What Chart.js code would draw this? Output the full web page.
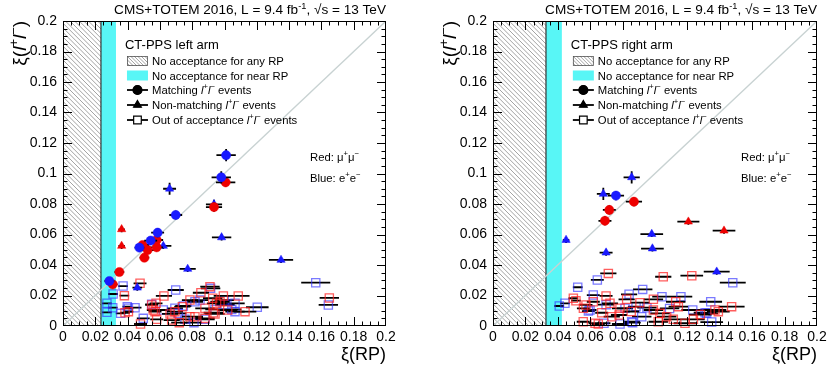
<!DOCTYPE html>
<html><head><meta charset="utf-8">
<script src="https://cdn.jsdelivr.net/npm/chart.js@4.4.0/dist/chart.umd.min.js"></script>
<style>
html,body{margin:0;padding:0;background:#fff;}
#wrap{position:relative;width:834px;height:374px;overflow:hidden;}
canvas{position:absolute;top:0;}
#c1{left:0;} #c2{left:417px;}
</style></head><body>
<div id="wrap"><canvas id="c1" width="417" height="374"></canvas><canvas id="c2" width="417" height="374"></canvas></div>
<script>
// ---------------- data: [xi(RP), xi(ll), xErr, yErr] ----------------
const axisMin = 0, axisMax = 0.2, majorStep = 0.02, minorStep = 0.005;
const diagonal = [[0, 0], [0.2, 0.2]];
const leftBands = { hatchEnd: 0.0235, cyanEnd: 0.0328 };
const rightBands = { hatchEnd: 0.0327, cyanEnd: 0.0425 };

const leftMatchMuMu = [[0.1007,0.0942,0.006,0.003],[0.0935,0.0780,0.005,0.003],[0.0580,0.0564,0.004,0.003],[0.0493,0.0531,0.004,0.002],[0.0580,0.0516,0.004,0.002],[0.0524,0.0498,0.004,0.002],[0.0504,0.0448,0.003,0.002],[0.0349,0.0354,0.003,0.002],[0.0308,0.0273,0.003,0.002]];
const leftMatchEE = [[0.1010,0.1120,0.006,0.004],[0.0980,0.0975,0.006,0.004],[0.0698,0.0728,0.004,0.003],[0.0586,0.0612,0.004,0.003],[0.0543,0.0560,0.004,0.002],[0.0473,0.0514,0.003,0.002],[0.0287,0.0295,0.003,0.002]];
const leftNonMuMu = [[0.0363,0.0634,0.002,0.002],[0.0363,0.0525,0.002,0.002]];
const leftNonEE = [[0.0660,0.0900,0.004,0.004],[0.0935,0.0798,0.005,0.003],[0.0621,0.0525,0.005,0.002],[0.0982,0.0581,0.006,0.002],[0.0772,0.0374,0.005,0.002],[0.0460,0.0251,0.003,0.002],[0.1350,0.0433,0.0075,0.002]];
const leftOutMuMu = [[0.0477,0.0280,0.004],[0.0380,0.0199,0.003],[0.0384,0.0087,0.003],[0.0405,0.0094,0.003],[0.0480,0.0013,0.004],[0.0549,0.0138,0.004],[0.0559,0.0105,0.004],[0.0576,0.0149,0.004],[0.0570,0.0094,0.004],[0.0580,0.0044,0.004],[0.0625,0.0197,0.005],[0.0663,0.0079,0.005],[0.0673,0.0039,0.005],[0.0693,0.0094,0.005],[0.0720,0.0022,0.005],[0.0739,0.0127,0.005],[0.0786,0.0170,0.005],[0.0786,0.0061,0.005],[0.0817,0.0061,0.005],[0.0854,0.0218,0.005],[0.0879,0.0116,0.006],[0.0879,0.0050,0.006],[0.0910,0.0258,0.006],[0.0927,0.0182,0.006],[0.0931,0.0087,0.006],[0.0941,0.0079,0.006],[0.0951,0.0149,0.006],[0.0972,0.0159,0.006],[0.0993,0.0197,0.006],[0.1020,0.0105,0.006],[0.1085,0.0197,0.007],[0.1127,0.0094,0.007],[0.1649,0.0184,0.006]];
const leftOutEE = [[0.0272,0.0149,0.003],[0.0272,0.0090,0.003],[0.0310,0.0210,0.003],[0.0308,0.0120,0.003],[0.0372,0.0262,0.003],[0.0357,0.0083,0.003],[0.0398,0.0127,0.003],[0.0405,0.0116,0.003],[0.0446,0.0120,0.004],[0.0497,0.0050,0.004],[0.0549,0.0142,0.004],[0.0621,0.0105,0.004],[0.0693,0.0116,0.005],[0.0698,0.0236,0.005],[0.0714,0.0083,0.005],[0.0745,0.0131,0.005],[0.0755,0.0044,0.005],[0.0811,0.0022,0.005],[0.0817,0.0159,0.005],[0.0848,0.0170,0.005],[0.0879,0.0044,0.006],[0.0914,0.0247,0.006],[0.0941,0.0109,0.006],[0.0999,0.0170,0.006],[0.1003,0.0138,0.006],[0.1045,0.0109,0.006],[0.1065,0.0149,0.006],[0.1065,0.0094,0.006],[0.1203,0.0123,0.007],[0.1565,0.0284,0.009],[0.1643,0.0138,0.006]];

const rightMatchMuMu = [[0.0870,0.0815,0.005,0.003],[0.0718,0.0761,0.004,0.003],[0.0691,0.0690,0.004,0.003]];
const rightMatchEE = [[0.0759,0.0855,0.005,0.003]];
const rightNonMuMu = [[0.1206,0.0684,0.0068,0.002],[0.1426,0.0625,0.007,0.002]];
const rightNonEE = [[0.0856,0.0975,0.005,0.004],[0.0681,0.0866,0.004,0.004],[0.0980,0.0603,0.007,0.002],[0.0451,0.0564,0.002,0.002],[0.0984,0.0508,0.007,0.002],[0.0698,0.0481,0.004,0.002],[0.1381,0.0356,0.008,0.002]];
const rightOutMuMu = [[0.0496,0.0182,0.003],[0.0512,0.0166,0.003],[0.0557,0.0028,0.004],[0.0558,0.0116,0.004],[0.0574,0.0138,0.004],[0.0619,0.0159,0.004],[0.0630,0.0018,0.004],[0.0650,0.0013,0.004],[0.0671,0.0087,0.004],[0.0698,0.0197,0.004],[0.0712,0.0345,0.005],[0.0722,0.0149,0.005],[0.0733,0.0061,0.005],[0.0778,0.0072,0.005],[0.0784,0.0116,0.005],[0.0825,0.0175,0.005],[0.0853,0.0095,0.005],[0.0907,0.0153,0.006],[0.0990,0.0175,0.006],[0.0990,0.0105,0.006],[0.1020,0.0028,0.006],[0.1031,0.0083,0.006],[0.1051,0.0323,0.005],[0.1072,0.0061,0.006],[0.1113,0.0044,0.006],[0.1128,0.0159,0.006],[0.1144,0.0127,0.006],[0.1185,0.0018,0.007],[0.1227,0.0330,0.007],[0.1237,0.0044,0.007],[0.1280,0.0075,0.007],[0.1370,0.0105,0.007],[0.1391,0.0094,0.007],[0.1473,0.0127,0.008]];
const rightOutEE = [[0.0409,0.0131,0.003],[0.0444,0.0149,0.003],[0.0523,0.0254,0.003],[0.0589,0.0098,0.004],[0.0599,0.0105,0.004],[0.0619,0.0203,0.004],[0.0644,0.0302,0.004],[0.0685,0.0018,0.004],[0.0698,0.0140,0.005],[0.0784,0.0013,0.005],[0.0815,0.0116,0.005],[0.0840,0.0208,0.005],[0.0856,0.0028,0.005],[0.0862,0.0022,0.005],[0.0883,0.0127,0.005],[0.0918,0.0061,0.006],[0.0924,0.0240,0.006],[0.0950,0.0120,0.006],[0.1043,0.0192,0.006],[0.1090,0.0115,0.006],[0.1160,0.0192,0.007],[0.1233,0.0105,0.007],[0.1309,0.0087,0.007],[0.1319,0.0083,0.007],[0.1344,0.0159,0.007],[0.1350,0.0026,0.007],[0.1480,0.0284,0.008]];

// ---------------- styling ----------------
const FONT = "'Liberation Sans', Arial, Helvetica, sans-serif";
const RED = 'rgb(238,0,0)', BLUE = 'rgb(25,25,255)';
const RED_OPEN = 'rgba(255,30,30,0.72)', BLUE_OPEN = 'rgba(50,50,255,0.65)';

function mk(label, arr, style, color, filled, radius, order) {
  return {
    label, type: 'scatter', order, errBars: true,
    data: arr.map(p => ({ x: p[0], y: p[1], xe: p[2] || 0, ye: p[3] || 0 })),
    pointStyle: style, pointRadius: radius, pointHoverRadius: radius,
    backgroundColor: filled ? color : 'rgba(0,0,0,0)',
    borderColor: color, pointBorderWidth: filled ? 0.5 : 1.3, clip: false
  };
}

const bandPlugin = {
  id: 'bands',
  beforeDatasetsDraw(chart, args, opts) {
    const { ctx, chartArea: a, scales: { x } } = chart;
    const x0 = x.getPixelForValue(axisMin), h = x.getPixelForValue(opts.hatchEnd), c = x.getPixelForValue(opts.cyanEnd);
    ctx.save();
    ctx.fillStyle = '#58f6f6';
    ctx.fillRect(h, a.top, c - h, a.bottom - a.top);
    ctx.beginPath(); ctx.rect(x0, a.top, h - x0, a.bottom - a.top); ctx.clip();
    ctx.strokeStyle = '#8c8c8c'; ctx.lineWidth = 0.8; ctx.beginPath();
    const H = a.bottom - a.top;
    for (let k = -H - 10; k < h - x0 + 10; k += 4.6) { ctx.moveTo(x0 + k, a.top); ctx.lineTo(x0 + k + H, a.bottom); }
    ctx.stroke();
    ctx.restore();
    ctx.save();
    ctx.strokeStyle = '#333'; ctx.lineWidth = 1.2;
    ctx.beginPath(); ctx.moveTo(h, a.top); ctx.lineTo(h, a.bottom); ctx.stroke();
    ctx.restore();
  }
};

const errPlugin = {
  id: 'errbars',
  beforeDatasetDraw(chart, args) {
    const ds = chart.data.datasets[args.index];
    if (!ds.errBars) return;
    const { ctx, chartArea: a, scales: { x, y } } = chart;
    ctx.save();
    ctx.beginPath(); ctx.rect(a.left, a.top, a.right - a.left, a.bottom - a.top); ctx.clip();
    ctx.strokeStyle = '#000'; ctx.lineWidth = 1.8;
    ctx.beginPath();
    ds.data.forEach(p => {
      const px = x.getPixelForValue(p.x), py = y.getPixelForValue(p.y);
      if (p.xe) { ctx.moveTo(x.getPixelForValue(p.x - p.xe), py); ctx.lineTo(x.getPixelForValue(p.x + p.xe), py); }
      if (p.ye) { ctx.moveTo(px, y.getPixelForValue(p.y - p.ye)); ctx.lineTo(px, y.getPixelForValue(p.y + p.ye)); }
    });
    ctx.stroke();
    ctx.restore();
  }
};

const framePlugin = {
  id: 'frame',
  afterDatasetsDraw(chart) {
    const { ctx, chartArea: a, scales: { x, y } } = chart;
    ctx.save();
    ctx.strokeStyle = '#000'; ctx.lineWidth = 1;
    ctx.strokeRect(Math.round(a.left) + 0.5, Math.round(a.top) + 0.5, Math.round(a.right - a.left) - 1, Math.round(a.bottom - a.top) - 1);
    ctx.beginPath();
    const n = Math.round((axisMax - axisMin) / minorStep);
    const per = Math.round(majorStep / minorStep);
    for (let i = 1; i < n; i++) {
      const v = axisMin + i * minorStep;
      const L = (i % per === 0) ? 9 : 4.5;
      const px = Math.round(x.getPixelForValue(v)) + 0.5;
      ctx.moveTo(px, a.bottom); ctx.lineTo(px, a.bottom - L);
      ctx.moveTo(px, a.top); ctx.lineTo(px, a.top + L);
      const py = Math.round(y.getPixelForValue(v)) + 0.5;
      ctx.moveTo(a.left, py); ctx.lineTo(a.left + L, py);
      ctx.moveTo(a.right, py); ctx.lineTo(a.right - L, py);
    }
    ctx.stroke();
    ctx.restore();
  }
};

function drawRich(ctx, segs, x, y, size, measureOnly) {
  let cx = x;
  for (const s of segs) {
    const fs = s.sup ? size * 0.68 : size;
    ctx.font = (s.it ? 'italic ' : '') + fs + 'px ' + FONT;
    const dy = s.sup ? -size * 0.4 : 0;
    if (!measureOnly) ctx.fillText(s.t, cx, y + dy);
    cx += ctx.measureText(s.t).width;
  }
  return cx - x;
}

const ll = [{ t: 'l', it: true }, { t: '+', sup: true }, { t: 'l', it: true }, { t: '\u2212', sup: true }];

const textPlugin = {
  id: 'texts',
  afterDraw(chart, args, opts) {
    const { ctx, chartArea: a, scales: { x } } = chart;
    ctx.save();
    ctx.fillStyle = '#000'; ctx.textBaseline = 'alphabetic'; ctx.textAlign = 'left';
    // header
    const head = [{ t: 'CMS+TOTEM 2016, L = 9.4 fb' }, { t: '-1', sup: true }, { t: ', \u221As = 13 TeV' }];
    const hs = 13.6;
    const w = drawRich(ctx, head, 0, 0, hs, true);
    drawRich(ctx, head, a.right - w, 14, hs);
    // y-axis title (rotated, aligned to the top of the frame)
    const yt = [{ t: '\u03BE(' }, { t: 'l', it: true }, { t: '+', sup: true }, { t: 'l', it: true }, { t: '\u2212', sup: true }, { t: ')' }];
    const ys = 19;
    const yw = drawRich(ctx, yt, 0, 0, ys, true);
    ctx.save();
    ctx.translate(a.left - 37, a.top);
    ctx.rotate(-Math.PI / 2);
    drawRich(ctx, yt, -yw, 0, ys);
    ctx.restore();
    // legend
    const c = x.getPixelForValue(opts.cyanEnd);
    const L = c + 11, T = a.top;
    ctx.font = '13px ' + FONT;
    ctx.fillText(opts.title, c + 9, T + 28);
    const rows = [T + 44, T + 58.5, T + 73, T + 88, T + 103];
    const ts = 11.3, tx = L + 25;
    // hatched box
    ctx.save();
    ctx.beginPath(); ctx.rect(L, rows[0] - 9, 21, 10); ctx.clip();
    ctx.strokeStyle = '#8c8c8c'; ctx.lineWidth = 0.8; ctx.beginPath();
    for (let k = -14; k < 24; k += 3.5) { ctx.moveTo(L + k, rows[0] - 9); ctx.lineTo(L + k + 10, rows[0] + 1); }
    ctx.stroke(); ctx.restore();
    ctx.strokeStyle = '#555'; ctx.lineWidth = 0.8; ctx.strokeRect(L + 0.5, rows[0] - 8.5, 20, 9);
    drawRich(ctx, [{ t: 'No acceptance for any RP' }], tx, rows[0], ts);
    ctx.fillStyle = '#58f6f6'; ctx.fillRect(L, rows[1] - 9, 21, 10);
    ctx.fillStyle = '#000';
    drawRich(ctx, [{ t: 'No acceptance for near RP' }], tx, rows[1], ts);
    const styles = ['circle', 'triangle', 'rect'];
    const labels = [
      [{ t: 'Matching ' }, ...ll, { t: ' events' }],
      [{ t: 'Non-matching ' }, ...ll, { t: ' events' }],
      [{ t: 'Out of acceptance ' }, ...ll, { t: ' events' }]
    ];
    for (let i = 0; i < 3; i++) {
      const yy = rows[2 + i] - 4;
      ctx.strokeStyle = '#000'; ctx.lineWidth = 1.8;
      ctx.beginPath(); ctx.moveTo(L, yy); ctx.lineTo(L + 21, yy); ctx.stroke();
      ctx.fillStyle = i < 2 ? '#000' : '#fff';
      ctx.lineWidth = 1.2;
      Chart.helpers.drawPoint(ctx, { pointStyle: styles[i], radius: i === 2 ? 5.4 : 4.5, borderWidth: 1.2 }, L + 10.5, yy);
      if (i < 2) ctx.fill();
      ctx.fillStyle = '#000';
      drawRich(ctx, labels[i], tx, rows[2 + i], ts);
    }
    // colour key
    const kx = a.right - 76;
    drawRich(ctx, [{ t: 'Red: ' }, { t: '\u03BC' }, { t: '+', sup: true }, { t: '\u03BC' }, { t: '\u2212', sup: true }], kx, 161, ts);
    drawRich(ctx, [{ t: 'Blue: ' }, { t: 'e' }, { t: '+', sup: true }, { t: 'e' }, { t: '\u2212', sup: true }], kx, 182, ts);
    ctx.restore();
  }
};

function fmt(v) { return v === 0 ? '0' : String(+v.toFixed(2)); }

function makePanel(id, title, bands, yAxisWidth, rightPad, sets) {
  const datasets = [
    { type: 'line', data: diagonal.map(p => ({ x: p[0], y: p[1] })), borderColor: 'rgb(200,210,210)', borderWidth: 1.3, pointRadius: 0, order: 10 },
    mk('out ee', sets[5], 'rect', BLUE_OPEN, false, 5.8, 6),
    mk('out mumu', sets[4], 'rect', RED_OPEN, false, 5.8, 5),
    mk('non ee', sets[3], 'triangle', BLUE, true, 4.8, 4),
    mk('non mumu', sets[2], 'triangle', RED, true, 4.8, 3),
    mk('match mumu', sets[0], 'circle', RED, true, 4.6, 2),
    mk('match ee', sets[1], 'circle', BLUE, true, 4.6, 1)
  ];
  return new Chart(document.getElementById(id), {
    type: 'scatter',
    data: { datasets },
    plugins: [bandPlugin, errPlugin, framePlugin, textPlugin],
    options: {
      responsive: false, animation: false, devicePixelRatio: 1,
      layout: { padding: { top: 21, right: rightPad, bottom: 0, left: 0 } },
      plugins: {
        legend: { display: false }, tooltip: { enabled: false },
        bands: bands,
        texts: { cyanEnd: bands.cyanEnd, title: title }
      },
      scales: {
        x: {
          type: 'linear', min: axisMin, max: axisMax,
          grid: { display: false, drawTicks: false }, border: { display: false },
          ticks: { stepSize: majorStep, autoSkip: false, maxRotation: 0, padding: 3, color: '#000', font: { family: FONT, size: 14 }, callback: fmt },
          title: { display: true, text: '\u03BE(RP)', align: 'end', color: '#000', font: { family: FONT, size: 18 }, padding: { top: 0, bottom: 8 } },
          afterFit(s) { s.height = 48; }
        },
        y: {
          type: 'linear', min: axisMin, max: axisMax,
          grid: { display: false, drawTicks: false }, border: { display: false },
          ticks: { stepSize: majorStep, autoSkip: false, padding: 6, color: '#000', font: { family: FONT, size: 14 }, callback: fmt },
          afterFit(s) { s.width = yAxisWidth; }
        }
      }
    }
  });
}

makePanel('c1', 'CT-PPS left arm', leftBands, 63, 31,
  [leftMatchMuMu, leftMatchEE, leftNonMuMu, leftNonEE, leftOutMuMu, leftOutEE]);
makePanel('c2', 'CT-PPS right arm', rightBands, 76, 17,
  [rightMatchMuMu, rightMatchEE, rightNonMuMu, rightNonEE, rightOutMuMu, rightOutEE]);
</script>
</body></html>
